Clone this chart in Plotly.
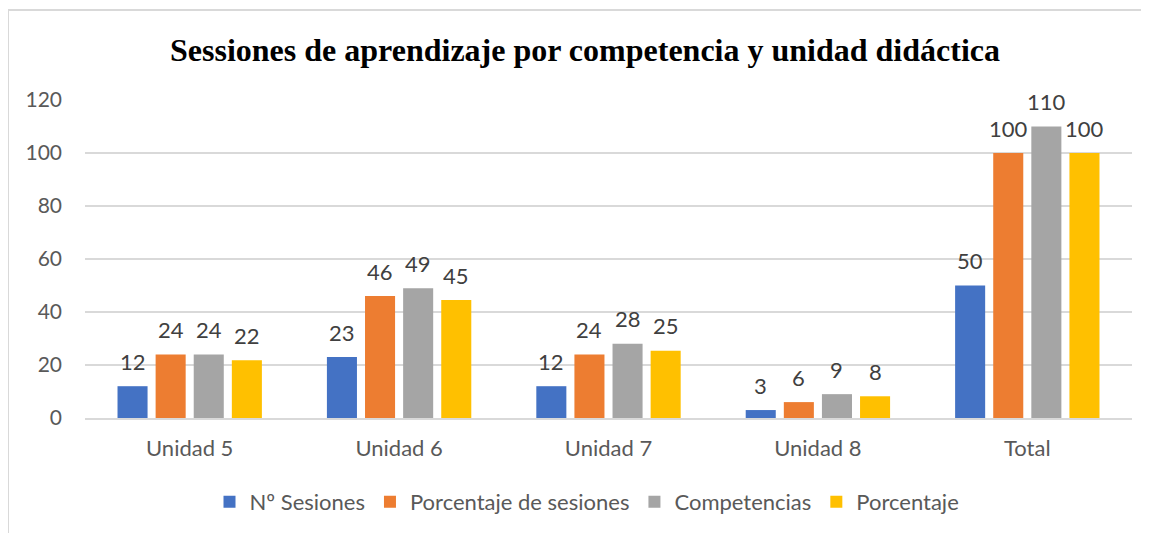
import plotly.graph_objects as go

categories = ["Unidad 5", "Unidad 6", "Unidad 7", "Unidad 8", "Total"]
series_names = ["Nº Sesiones", "Porcentaje de sesiones", "Competencias", "Porcentaje"]
n_sesiones = [12, 23, 12, 3, 50]
pct_sesiones = [24, 46, 24, 6, 100]
competencias = [24, 49, 28, 9, 110]
porcentaje = [21.8, 44.5, 25.4, 8.2, 100]
colors = ["#4472C4", "#ED7D31", "#A5A5A5", "#FFC000"]
y_ticks = [0, 20, 40, 60, 80, 100, 120]

# page body has an 8px margin: figure coords = page px - 8
OFF = 8
W, H = 1149 - OFF, 533 - OFF
ml, mt = 85 - OFF, 100 - OFF
mr = W - (1132 - OFF)
mb = H - (418 - OFF)
pw, ph = W - ml - mr, H - mt - mb

SLOT = 0.182   # category fraction per series slot
BW = 0.1435    # bar width (category fraction)
SANS = "Lato, Open Sans, sans-serif"


def label(v):
    return str(int(v + 0.5))


fig = go.Figure()
all_series = [n_sesiones, pct_sesiones, competencias, porcentaje]
n = len(all_series)
for k, (name, vals, col) in enumerate(zip(series_names, all_series, colors)):
    off = -n / 2 * SLOT + k * SLOT + (SLOT - BW) / 2
    fig.add_trace(go.Bar(
        x=categories, y=vals, name=name, width=BW, offset=off,
        marker=dict(color=col, line=dict(width=0)),
    ))
    for i, v in enumerate(vals):
        fig.add_annotation(
            x=i + off + BW / 2, y=v, xref="x", yref="y",
            text=label(v), showarrow=False, yanchor="middle", yshift=25,
            font=dict(family=SANS, size=22, color="#404040"),
        )


def px_x(p):
    return (p - OFF - ml) / pw


def px_y(p):
    return (H - mb - (p - OFF)) / ph


border = dict(color="#D9D9D9", width=2)
fig.add_shape(type="line", xref="paper", yref="paper", x0=px_x(8), x1=px_x(1160), y0=px_y(10), y1=px_y(10), line=border)
fig.add_shape(type="line", xref="paper", yref="paper", x0=px_x(8), x1=px_x(8), y0=px_y(10), y1=px_y(545), line=border)

fig.update_layout(
    width=W, height=H,
    margin=dict(l=ml, r=mr, t=mt, b=mb, autoexpand=False),
    paper_bgcolor="white", plot_bgcolor="white",
    barmode="overlay",
    title=dict(text="<b>Sessiones de aprendizaje por competencia y unidad didáctica</b>",
               x=(585 - OFF) / W, xanchor="center", xref="container",
               y=1 - (50 - OFF) / H, yanchor="middle", yref="container",
               font=dict(family="Liberation Serif, Times New Roman, serif", size=32, color="black")),
    font=dict(family=SANS, size=22, color="#595959"),
    xaxis=dict(showgrid=False, showline=True, linecolor="#D9D9D9", linewidth=1.5, ticks="",
               automargin=False, tickfont=dict(size=22, color="#595959"), ticklabelstandoff=10),
    yaxis=dict(range=[0, 120], tickvals=y_ticks, showgrid=True, gridcolor="#D9D9D9", gridwidth=1.5,
               zeroline=False, ticks="", automargin=False, tickfont=dict(size=21, color="#595959"),
               ticklabelstandoff=22),
    legend=dict(orientation="h", x=(587 - OFF) / W, xanchor="center", xref="container",
                y=1 - (502 - OFF) / H, yanchor="middle", yref="container",
                font=dict(size=22, color="#595959"), itemwidth=30, traceorder="normal"),
    showlegend=True,
)

fig.write_html("out.html")
